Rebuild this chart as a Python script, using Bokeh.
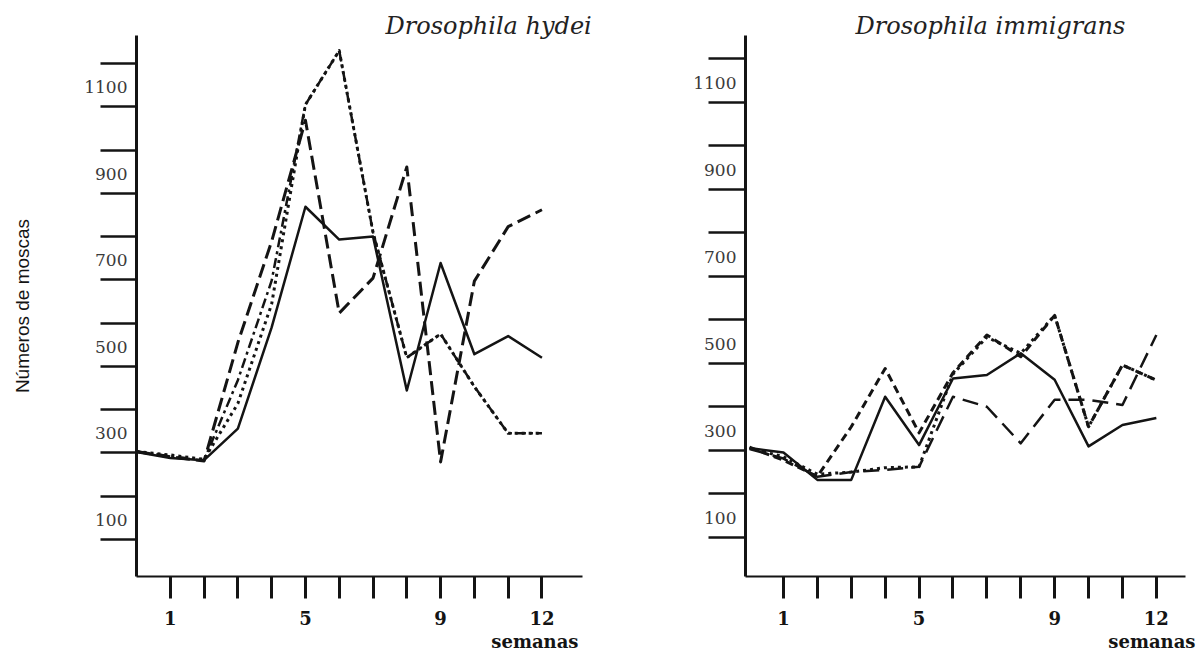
from bokeh.plotting import figure
from bokeh.layouts import row
from bokeh.models import FixedTicker, Range1d, Title
from bokeh.embed import file_html
from bokeh.resources import INLINE

# ---------------- data ----------------
weeks = list(range(13))
tick_weeks = list(range(1, 13))
x_tick_labels = {1: "1", 5: "5", 9: "9", 12: "12"}
y_label_values = [100, 300, 500, 700, 900, 1100]
y_tick_marks = [55, 155, 255, 355, 455, 555, 655, 755, 855, 955, 1055, 1155]

titles = ["Drosophila hydei", "Drosophila immigrans"]
y_title = "Números de moscas"
x_title = "semanas"

hydei_solid = [257, 243, 238, 311, 545, 824, 748, 755, 399, 694, 483, 525, 475]
hydei_long_dash = [258, 246, 236, 510, 744, 1024, 578, 659, 916, 234, 652, 778, 817]
hydei_dotted = [258, 250, 240, 369, 599, 1060, 1185, 765, 475, 530, 408, 300, 300]
hydei_dash_dot = [258, 247, 238, 423, 653, 1060, 1185, 765, 475, 530, 408, 300, 300]

immigrans_solid = [260, 250, 187, 187, 378, 267, 420, 428, 478, 417, 264, 313, 329]
immigrans_dash = [262, 232, 195, 309, 443, 295, 433, 520, 470, 565, 309, 451, 416]
immigrans_dotted = [260, 240, 200, 205, 215, 217, 430, 515, 478, 565, 309, 451, 416]
immigrans_long_dash = [258, 236, 194, 205, 210, 217, 378, 355, 271, 371, 371, 359, 520]

INK = "#141414"
SERIF = "DejaVu Serif"


def make_panel(width, height, border, xr, yr, series, title, title_offset,
               x_title_offset, tick_len, with_ylabel):
    left, right, top, bottom = border
    p = figure(width=width, height=height, output_backend="svg", toolbar_location=None,
               x_range=Range1d(*xr), y_range=Range1d(*yr),
               min_border_left=left, min_border_right=right,
               min_border_top=top, min_border_bottom=bottom)
    p.outline_line_color = None
    p.xgrid.visible = False
    p.ygrid.visible = False
    p.background_fill_color = "white"
    p.border_fill_color = "white"

    # species title, italic serif at the top right
    p.title = Title(text=title, align="left", offset=title_offset, standoff=-8,
                    text_font=SERIF, text_font_style="italic", text_font_size="24px",
                    text_color="#222222")

    # y axis
    ya = p.yaxis[0]
    ya.ticker = FixedTicker(ticks=y_label_values, minor_ticks=y_tick_marks)
    ya.axis_line_width = 3
    ya.axis_line_color = INK
    ya.major_tick_out = 0
    ya.major_tick_in = 0
    ya.minor_tick_out = tick_len
    ya.minor_tick_in = 0
    ya.minor_tick_line_width = 2.5
    ya.minor_tick_line_color = INK
    ya.major_label_standoff = -(tick_len - 9)
    ya.major_label_text_font = SERIF
    ya.major_label_text_font_size = "17px"
    ya.major_label_text_color = "#3a3a3a"
    if with_ylabel:
        ya.axis_label = y_title
        ya.axis_label_text_font = "Liberation Sans"
        ya.axis_label_text_font_style = "normal"
        ya.axis_label_text_font_size = "19px"
        ya.axis_label_text_color = INK
        ya.axis_label_standoff = 48

    # x axis
    xa = p.xaxis[0]
    xa.ticker = FixedTicker(ticks=tick_weeks, minor_ticks=[])
    xa.major_label_overrides = {w: x_tick_labels.get(w, "") for w in tick_weeks}
    xa.axis_line_width = 2
    xa.axis_line_color = INK
    xa.major_tick_out = 22
    xa.major_tick_in = 0
    xa.major_tick_line_width = 3
    xa.major_tick_line_color = INK
    xa.minor_tick_out = 0
    xa.minor_tick_in = 0
    xa.major_label_standoff = 12
    xa.major_label_text_font = SERIF
    xa.major_label_text_font_style = "bold"
    xa.major_label_text_font_size = "18px"
    xa.major_label_text_color = INK

    # "semanas" under the right end of the x axis
    p.add_layout(Title(text=x_title, align="right", offset=x_title_offset, standoff=3,
                       text_font=SERIF, text_font_style="bold", text_font_size="18px",
                       text_color=INK), "below")

    for ys, dash, lw in series:
        p.line(weeks, ys, line_color=INK, line_width=lw, line_dash=dash, line_join="round")
    return p


left = make_panel(
    650, 653, (136, 68, 33, 76), (0, 13.2), (-31, 1220),
    [(hydei_solid, "solid", 2.5),
     (hydei_long_dash, "14 6", 3),
     (hydei_dotted, "3 4", 3),
     (hydei_dash_dot, "10 4 3 4", 2.5)],
    titles[0], 249, 4, 36, True)

right = make_panel(
    550, 653, (95, 15, 35, 76), (-0.12, 12.86), (-35, 1208),
    [(immigrans_solid, "solid", 2.5),
     (immigrans_dash, "8 5", 3),
     (immigrans_dotted, "3 4", 3),
     (immigrans_long_dash, "16 8", 2.5)],
    titles[1], 110, -10, 37, False)

layout = row(left, right)
open("out.html", "w").write(file_html(layout, INLINE))
